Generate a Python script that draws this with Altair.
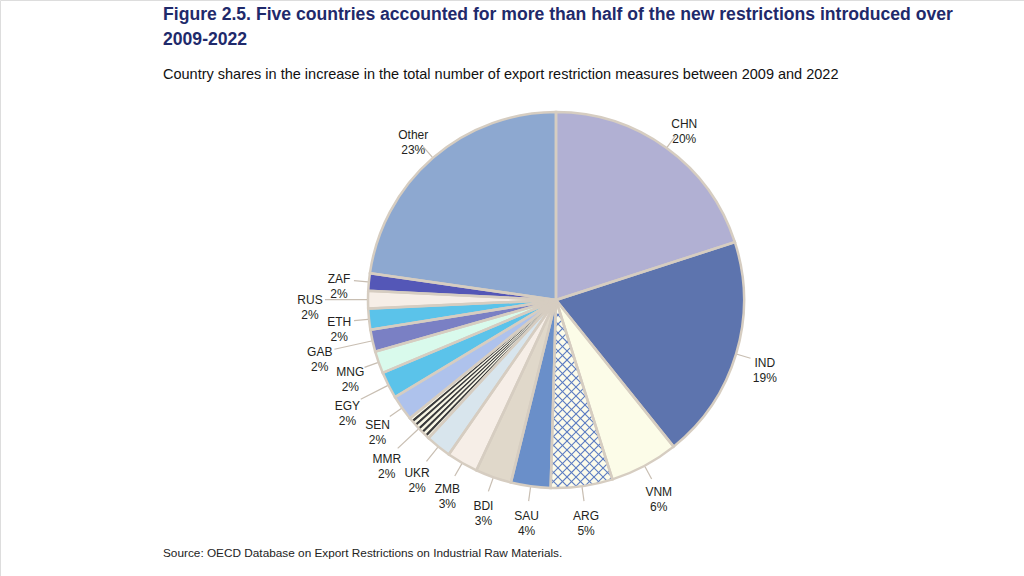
import math
import numpy as np
import pandas as pd
import altair as alt

# ---------------- data ----------------
countries = ["CHN", "IND", "VNM", "ARG", "SAU", "BDI", "ZMB", "UKR", "MMR",
             "SEN", "EGY", "MNG", "GAB", "ETH", "RUS", "ZAF", "Other"]
shares = [20.0, 19.2, 5.9, 5.3, 3.4, 3.1, 2.7, 2.2, 2.3,
          2.2, 2.3, 1.9, 1.9, 1.8, 1.5, 1.5, 22.7]
pct_labels = ["20%", "19%", "6%", "5%", "4%", "3%", "3%", "2%", "2%",
              "2%", "2%", "2%", "2%", "2%", "2%", "2%", "23%"]

title_line1 = "Figure 2.5. Five countries accounted for more than half of the new restrictions introduced over"
title_line2 = "2009-2022"
subtitle = "Country shares in the increase in the total number of export restriction measures between 2009 and 2022"
source = "Source: OECD Database on Export Restrictions on Industrial Raw Materials."

# ---------------- styles / layout ----------------
palette = {
    "CHN": "#B1B0D3", "IND": "#5D74AE", "VNM": "#FCFCE8", "ARG": "#FCFBEA",
    "SAU": "#6A8FC9", "BDI": "#E0D8CA", "ZMB": "#F6EEE7", "UKR": "#D8E5ED",
    "MMR": "#F8F6E4", "SEN": "#AEC2EC", "EGY": "#5BC3EA", "MNG": "#D9FAEC",
    "GAB": "#7A80C4", "ETH": "#5BC3EA", "RUS": "#F6EEE7", "ZAF": "#5457B7",
    "Other": "#8DA8D0",
}
stripe_dark = "#3A3A3A"
hatch_color = "#5B7BC2"
edge_color = "#D6CDC1"
W, H = 1024, 576
CX, CY, R = 556, 300, 188
FONT = "Liberation Sans Narrow, Arial Narrow, Liberation Sans, Arial"
LFONT = "Liberation Sans, Arial"
BOX_W, BOX_H = 29, 28   # approximate label box used to avoid overlaps

total = sum(shares)

# main table
base = pd.DataFrame({"country": countries, "share": shares, "pct": pct_labels})
base["k"] = np.arange(len(base))

# fill table: MMR slice split into thin alternating stripes
fill_rows = []
k = 0
for c, v in zip(countries, shares):
    if c == "MMR":
        n = 11
        for j in range(n):
            fill_rows.append({"country": c, "share": v / n, "k": k,
                              "fill": stripe_dark if j % 2 == 1 else palette[c]})
            k += 1
    else:
        fill_rows.append({"country": c, "share": v, "k": k, "fill": palette[c]})
        k += 1
fill_df = pd.DataFrame(fill_rows)

# angles (same mapping as the theta scale: [0,total] -> [0, 2pi], clockwise from top)
cum = np.concatenate([[0], np.cumsum(shares)])
a0s = cum[:-1] / total * 2 * math.pi
a1s = cum[1:] / total * 2 * math.pi
mids = (a0s + a1s) / 2

def polar(r, a):
    return CX + r * math.sin(a), CY - r * math.cos(a)

lab_rows, lead_rows, placed = [], [], []
for i, (c, v, p) in enumerate(zip(countries, shares, pct_labels)):
    m = mids[i]
    rl = R + 30
    lx, ly = polar(rl, m)
    # push the label outwards while it overlaps a label already placed
    while any(abs(lx - px) < BOX_W and abs(ly - py) < BOX_H for px, py in placed):
        rl += 2
        lx, ly = polar(rl, m)
    placed.append((lx, ly))
    lab_rows.append({"x": lx, "y": ly, "text": c + "\n" + p})
    x1, y1 = polar(R + 1, m)
    x2, y2 = polar(rl - 15, m)
    lead_rows.append({"x": x1, "y": y1, "x2": x2, "y2": y2})
lab_df = pd.DataFrame(lab_rows)
lead_df = pd.DataFrame(lead_rows)

# cross-hatch for ARG slice (clip 45-degree lines to the sector polygon)
ia = countries.index("ARG")
angs = np.linspace(a0s[ia], a1s[ia], 24)
poly = [(CX, CY)] + [polar(R, a) for a in angs]
hatch_rows = []
step = 9.0
for s in (1, -1):
    vals = [px + s * py for px, py in poly]
    cval = math.floor(min(vals) / step) * step
    while cval <= max(vals):
        pts = []
        for j in range(len(poly)):
            p, q = poly[j], poly[(j + 1) % len(poly)]
            fp = p[0] + s * p[1] - cval
            fq = q[0] + s * q[1] - cval
            if fp * fq <= 0 and fp != fq:
                t = fp / (fp - fq)
                pts.append((p[0] + t * (q[0] - p[0]), p[1] + t * (q[1] - p[1])))
        if len(pts) >= 2:
            pts.sort()
            hatch_rows.append({"x": pts[0][0], "y": pts[0][1],
                               "x2": pts[-1][0], "y2": pts[-1][1]})
        cval += step
hatch_df = pd.DataFrame(hatch_rows)

xs = alt.Scale(domain=[0, W], nice=False, zero=False)
ys = alt.Scale(domain=[0, H], nice=False, zero=False, reverse=True)

fills = alt.Chart(fill_df).mark_arc(outerRadius=R).encode(
    theta=alt.Theta("share:Q", stack=True),
    order=alt.Order("k:Q"),
    fill=alt.Fill("fill:N", scale=None),
    x=alt.value(CX), y=alt.value(CY),
)

hatch = alt.Chart(hatch_df).mark_rule(color=hatch_color, strokeWidth=1.1).encode(
    x=alt.X("x:Q", scale=xs, axis=None), y=alt.Y("y:Q", scale=ys, axis=None),
    x2="x2:Q", y2="y2:Q",
)

outline = alt.Chart(base).mark_arc(
    outerRadius=R, fillOpacity=0, stroke=edge_color, strokeWidth=2.5
).encode(
    theta=alt.Theta("share:Q", stack=True),
    order=alt.Order("k:Q"),
    x=alt.value(CX), y=alt.value(CY),
)

leaders = alt.Chart(lead_df).mark_rule(color="#C8BEB2", strokeWidth=1.2).encode(
    x=alt.X("x:Q", scale=xs, axis=None), y=alt.Y("y:Q", scale=ys, axis=None),
    x2="x2:Q", y2="y2:Q",
)

labels = alt.Chart(lab_df).mark_text(
    font=LFONT, fontSize=12, lineHeight=15, lineBreak="\n",
    align="center", baseline="middle", color="#231F20",
).encode(
    x=alt.X("x:Q", scale=xs, axis=None), y=alt.Y("y:Q", scale=ys, axis=None),
    text="text:N",
)

def txt(s, x, y, size, bold=False, color="#000000", font=FONT):
    return alt.Chart(pd.DataFrame({"t": [s]})).mark_text(
        font=font, fontSize=size, fontWeight="bold" if bold else "normal",
        align="left", baseline="middle", color=color,
    ).encode(x=alt.value(x), y=alt.value(y), text="t:N")

texts = [
    txt(title_line1, 163, 15, 17.6, True, "#1F2A6B"),
    txt(title_line2, 163, 40, 17.6, True, "#1F2A6B"),
    txt(subtitle, 163, 75, 14.5, False, "#111111"),
    txt(source, 163, 553, 11.8, False, "#222222"),
]

chart = alt.layer(fills, hatch, outline, leaders, labels, *texts).properties(
    width=W, height=H, padding=0,
    autosize=alt.AutoSizeParams(type="none"),
).configure_view(strokeWidth=0).configure(background="#FFFFFF")

chart.save("out.html", embed_options={"renderer": "svg", "actions": False})
